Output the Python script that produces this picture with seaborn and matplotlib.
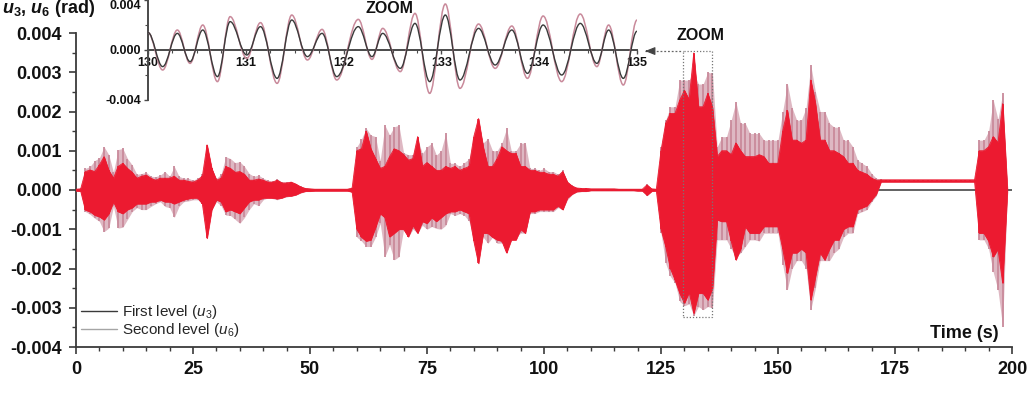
import numpy as np
import matplotlib
matplotlib.use("Agg")
import matplotlib.pyplot as plt
import seaborn as sns
from matplotlib.path import Path
from matplotlib.patches import PathPatch, Rectangle
from matplotlib.lines import Line2D
from matplotlib.ticker import MultipleLocator, FormatStrFormatter, FixedLocator

# ---------------- data (rotation envelopes per second, in 1e-3 rad) ----------------
time_s = list(range(0, 200))

first_max = [
    0.02, 0.03, 0.47, 0.51, 0.47, 0.64, 0.85, 0.50, 0.30, 0.60,
    0.68, 0.55, 0.45, 0.30, 0.35, 0.38, 0.30, 0.25, 0.30, 0.30,
    0.30, 0.35, 0.25, 0.25, 0.22, 0.20, 0.25, 0.35, 1.15, 0.55,
    0.25, 0.30, 0.60, 0.55, 0.45, 0.47, 0.40, 0.25, 0.25, 0.28,
    0.25, 0.20, 0.20, 0.25, 0.18, 0.18, 0.20, 0.15, 0.08, 0.04,
    0.03, 0.02, 0.02, 0.02, 0.02, 0.02, 0.02, 0.02, 0.02, 0.05,
    1.00, 1.05, 1.50, 1.05, 0.80, 0.55, 0.60, 0.85, 1.05, 1.00,
    0.90, 0.76, 0.80, 1.36, 0.60, 0.70, 0.60, 0.50, 0.50, 0.60,
    0.55, 0.60, 0.50, 0.55, 0.60, 1.36, 1.82, 1.10, 0.60, 0.60,
    0.80, 1.10, 1.00, 0.93, 0.93, 0.60, 0.60, 0.50, 0.50, 0.45,
    0.45, 0.40, 0.40, 0.35, 0.47, 0.20, 0.10, 0.05, 0.04, 0.04,
    0.03, 0.03, 0.03, 0.03, 0.03, 0.03, 0.02, 0.02, 0.02, 0.02,
    0.02, 0.02, 0.13, 0.03, 0.02, 1.00, 1.70, 1.95, 1.95, 2.29,
    2.54, 2.30, 3.49, 2.12, 2.12, 2.46, 2.10, 0.85, 1.00, 1.00,
    0.90, 1.20, 1.00, 0.85, 0.85, 0.85, 0.90, 0.85, 0.68, 0.68,
    0.68, 1.50, 2.03, 1.27, 1.27, 1.19, 1.27, 2.80, 2.20, 1.27,
    1.27, 1.00, 1.00, 0.93, 0.85, 0.68, 0.68, 0.50, 0.45, 0.40,
    0.30, 0.25, 0.26, 0.26, 0.26, 0.26, 0.26, 0.26, 0.26, 0.26,
    0.26, 0.26, 0.26, 0.26, 0.26, 0.26, 0.26, 0.26, 0.26, 0.26,
    0.26, 0.26, 0.26, 1.00, 1.00, 1.10, 1.36, 1.20, 2.20, 0.05,
]
first_min = [
    -0.02, -0.03, -0.51, -0.55, -0.64, -0.68, -0.76, -0.60, -0.30, -0.55,
    -0.60, -0.50, -0.45, -0.35, -0.35, -0.35, -0.30, -0.30, -0.25, -0.30,
    -0.30, -0.35, -0.30, -0.25, -0.22, -0.20, -0.20, -0.35, -1.23, -0.50,
    -0.25, -0.30, -0.55, -0.50, -0.55, -0.60, -0.45, -0.30, -0.25, -0.25,
    -0.20, -0.20, -0.20, -0.22, -0.20, -0.15, -0.15, -0.12, -0.06, -0.03,
    -0.03, -0.02, -0.02, -0.02, -0.02, -0.02, -0.02, -0.02, -0.02, -0.05,
    -1.00, -1.20, -1.30, -1.27, -0.95, -0.60, -0.70, -1.19, -1.10, -1.00,
    -1.00, -1.19, -0.90, -1.10, -0.80, -0.85, -0.70, -0.80, -0.70, -0.60,
    -0.55, -0.55, -0.50, -0.55, -0.60, -1.30, -1.87, -1.10, -1.10, -1.20,
    -1.27, -1.30, -1.60, -1.27, -1.27, -1.00, -1.10, -0.55, -0.55, -0.50,
    -0.50, -0.50, -0.50, -0.40, -0.50, -0.20, -0.10, -0.04, -0.03, -0.03,
    -0.01, -0.01, -0.01, -0.01, -0.01, -0.01, -0.01, -0.01, -0.01, -0.01,
    -0.02, -0.02, -0.13, -0.03, -0.02, -1.00, -1.44, -2.00, -2.29, -2.63,
    -2.88, -2.60, -3.14, -2.63, -2.63, -2.80, -2.50, -0.76, -0.80, -0.80,
    -1.30, -1.78, -1.50, -0.93, -1.10, -1.10, -1.10, -0.93, -0.93, -0.93,
    -0.93, -1.50, -2.12, -1.60, -1.60, -1.50, -1.60, -2.80, -2.20, -1.60,
    -1.78, -1.50, -1.27, -1.27, -1.00, -0.93, -0.93, -0.50, -0.45, -0.40,
    -0.25, -0.10, 0.21, 0.21, 0.21, 0.21, 0.21, 0.21, 0.21, 0.21,
    0.21, 0.21, 0.21, 0.21, 0.21, 0.21, 0.21, 0.21, 0.21, 0.21,
    0.21, 0.21, 0.21, -1.10, -1.10, -1.30, -1.70, -1.50, -2.37, -0.05,
]
second_max = [
    0.02, 0.04, 0.55, 0.60, 0.75, 0.82, 1.10, 0.90, 0.45, 1.03,
    1.06, 0.80, 0.64, 0.40, 0.42, 0.45, 0.35, 0.34, 0.38, 0.47,
    0.35, 0.60, 0.35, 0.30, 0.30, 0.25, 0.30, 0.40, 1.00, 0.55,
    0.30, 0.40, 0.85, 0.80, 0.70, 0.72, 0.60, 0.42, 0.35, 0.38,
    0.30, 0.25, 0.22, 0.28, 0.20, 0.20, 0.20, 0.15, 0.10, 0.05,
    0.03, 0.02, 0.02, 0.02, 0.02, 0.02, 0.02, 0.02, 0.02, 0.05,
    1.10, 1.30, 1.57, 1.40, 1.36, 0.75, 1.65, 1.40, 1.61, 1.65,
    0.95, 0.90, 0.90, 1.31, 0.93, 1.10, 1.19, 0.89, 1.00, 1.44,
    0.68, 0.68, 0.60, 0.70, 0.80, 1.30, 1.60, 1.20, 1.31, 1.00,
    1.00, 1.20, 1.57, 1.00, 1.00, 1.19, 1.20, 0.55, 0.55, 0.50,
    0.55, 0.47, 0.47, 0.40, 0.50, 0.22, 0.12, 0.05, 0.04, 0.04,
    0.03, 0.03, 0.03, 0.03, 0.03, 0.03, 0.02, 0.02, 0.02, 0.02,
    0.02, 0.02, 0.15, 0.03, 0.02, 1.10, 1.78, 2.12, 2.12, 2.80,
    2.80, 2.80, 3.00, 2.70, 2.70, 3.00, 2.97, 1.10, 1.36, 1.36,
    1.78, 2.25, 1.70, 1.70, 1.44, 1.44, 1.44, 1.27, 1.27, 1.27,
    1.27, 2.00, 2.71, 2.10, 1.78, 1.78, 2.10, 3.18, 2.50, 2.00,
    2.00, 1.70, 1.60, 1.60, 1.27, 1.27, 1.10, 0.76, 0.68, 0.60,
    0.42, 0.30, 0.27, 0.26, 0.26, 0.26, 0.26, 0.26, 0.26, 0.26,
    0.26, 0.26, 0.26, 0.26, 0.26, 0.26, 0.26, 0.26, 0.26, 0.26,
    0.26, 0.26, 0.26, 1.27, 1.27, 1.50, 2.29, 1.80, 2.46, 0.05,
]
second_min = [
    -0.02, -0.04, -0.55, -0.62, -0.72, -0.80, -1.06, -0.97, -0.42, -0.97,
    -0.95, -0.75, -0.55, -0.45, -0.50, -0.50, -0.42, -0.35, -0.30, -0.42,
    -0.45, -0.70, -0.42, -0.30, -0.28, -0.25, -0.25, -0.35, -0.90, -0.50,
    -0.30, -0.40, -0.64, -0.65, -0.75, -0.85, -0.70, -0.50, -0.35, -0.40,
    -0.25, -0.20, -0.22, -0.25, -0.20, -0.18, -0.15, -0.12, -0.08, -0.04,
    -0.03, -0.02, -0.02, -0.02, -0.02, -0.02, -0.02, -0.02, -0.02, -0.05,
    -1.20, -1.30, -1.44, -1.44, -1.20, -0.85, -1.70, -1.40, -1.78, -1.70,
    -1.00, -1.20, -1.00, -1.10, -0.90, -1.00, -0.93, -0.98, -1.00, -0.90,
    -0.60, -0.65, -0.60, -0.65, -0.80, -1.30, -1.60, -1.20, -1.36, -1.20,
    -1.36, -1.35, -1.50, -1.27, -1.20, -1.10, -1.10, -0.60, -0.60, -0.55,
    -0.55, -0.55, -0.55, -0.45, -0.50, -0.25, -0.12, -0.05, -0.04, -0.04,
    -0.02, -0.02, -0.02, -0.02, -0.02, -0.02, -0.02, -0.02, -0.02, -0.02,
    -0.02, -0.02, -0.15, -0.03, -0.02, -1.10, -1.87, -2.20, -2.37, -2.84,
    -2.95, -2.90, -3.20, -2.97, -3.05, -2.97, -3.00, -1.27, -1.27, -1.27,
    -1.50, -1.70, -1.60, -1.44, -1.27, -1.27, -1.30, -1.10, -1.10, -1.10,
    -1.10, -1.90, -2.54, -2.00, -1.80, -1.80, -2.00, -3.05, -2.50, -1.80,
    -1.80, -1.80, -1.60, -1.50, -1.20, -1.10, -1.10, -0.60, -0.55, -0.50,
    -0.30, -0.15, 0.21, 0.21, 0.21, 0.21, 0.21, 0.21, 0.21, 0.21,
    0.21, 0.21, 0.21, 0.21, 0.21, 0.21, 0.21, 0.21, 0.21, 0.21,
    0.21, 0.21, 0.21, -1.27, -1.27, -1.50, -2.10, -2.55, -3.48, -0.05,
]

# zoom window 130-135 s: successive peaks / troughs (1e-3 rad)
zoom_t = [130.00, 130.15, 130.30, 130.43, 130.56, 130.71, 130.84, 131.01, 131.15,
          131.32, 131.47, 131.63, 131.78, 131.93, 132.15, 132.29, 132.40, 132.58,
          132.73, 132.88, 133.04, 133.19, 133.38, 133.55, 133.72, 133.88, 134.04,
          134.23, 134.42, 134.59, 134.71, 134.86, 135.00]
zoom_first = [1.40, -1.33, 1.33, -0.93, 1.60, -2.13, 2.27, -0.40, 1.87, -2.27, 2.40,
              -0.53, 1.33, -2.13, 1.87, -0.53, 1.33, -1.47, 2.13, -2.53, 2.80, -2.40,
              1.73, -1.20, 1.60, -1.87, 2.00, -2.00, 2.13, -1.07, 1.60, -2.27, 1.50]
zoom_second = [1.40, -1.60, 1.60, -1.07, 2.00, -2.53, 2.67, -0.67, 2.19, -2.67, 2.80,
               -0.80, 1.65, -2.40, 2.45, -0.75, 1.73, -1.73, 2.93, -3.47, 3.68, -3.07,
               2.08, -1.47, 1.92, -2.27, 2.72, -2.53, 2.88, -1.33, 2.00, -2.80, 2.40]

x_major = [0, 25, 50, 75, 100, 125, 150, 175, 200]
series_labels = [r"First level ($u_3$)", r"Second level ($u_6$)"]

# ---------------- style ----------------
sns.set_theme(style="ticks")
plt.rcParams["font.family"] = ["Liberation Sans", "DejaVu Sans"]
plt.rcParams["axes.unicode_minus"] = False
plt.rcParams["mathtext.fontset"] = "custom"
plt.rcParams["mathtext.rm"] = "Liberation Sans"
plt.rcParams["mathtext.it"] = "Liberation Sans:italic"
plt.rcParams["mathtext.bf"] = "Liberation Sans:bold"
try:
    plt.rcParams["mathtext.bfit"] = "Liberation Sans:italic:bold"
    YLAB = r"$\mathbfit{u}_\mathbf{3}$, $\mathbfit{u}_\mathbf{6}$ (rad)"
except KeyError:
    YLAB = r"$u_3$, $u_6$ (rad)"

RED = "#ec1a30"
PINK = "#c98a9b"
AX = "#3a3a3a"

fig = plt.figure(figsize=(10.31, 3.96), dpi=100)
ax = fig.add_axes([76 / 1031, 1 - 347 / 396, 936 / 1031, 314 / 396])

t = np.array(time_s, dtype=float)
s = 1e-3
smax, smin = np.array(second_max) * s, np.array(second_min) * s
fmax, fmin = np.array(first_max) * s, np.array(first_min) * s

ax.axhline(0, color="#555555", lw=1.3, zorder=1)
# second level: lighter band with denser streaks
ax.fill_between(t, smin, smax, color=PINK, alpha=0.6, lw=0, zorder=2)
ax.vlines(t, smin, smax, color=PINK, lw=1.3, zorder=2.5)
# first level
ax.fill_between(t, fmin, fmax, color=RED, lw=0.5, zorder=3)
sns.lineplot(x=t, y=fmax, ax=ax, color=RED, lw=0.6, zorder=3)
sns.lineplot(x=t, y=fmin, ax=ax, color=RED, lw=0.6, zorder=3)
ax.vlines(t, fmin, fmax, color=RED, lw=1.1, zorder=3.5)

ax.set_xlim(0, 200)
ax.set_ylim(-0.004, 0.004)
ax.xaxis.set_major_locator(FixedLocator(x_major))
ax.xaxis.set_minor_locator(MultipleLocator(5))
ax.yaxis.set_major_locator(MultipleLocator(0.001))
ax.yaxis.set_minor_locator(MultipleLocator(0.0005))
ax.yaxis.set_major_formatter(FormatStrFormatter("%.3f"))
sns.despine(ax=ax)
for sp in ["left", "bottom"]:
    ax.spines[sp].set_color(AX)
    ax.spines[sp].set_linewidth(1.3)
ax.tick_params(which="major", direction="out", length=5, width=1.2, color=AX,
               labelsize=13, pad=5, labelcolor="#111111")
ax.tick_params(which="minor", direction="out", length=3, width=1.0, color=AX)
for lab in ax.get_xticklabels() + ax.get_yticklabels():
    lab.set_fontweight("bold")
ax.set_facecolor("white")

ax.text(0.986, 0.03, "Time (s)", transform=ax.transAxes, ha="right",
        va="baseline", fontsize=13, fontweight="bold", color="#111111")
fig.text(0.002, 1 - 13 / 396, YLAB, ha="left", va="baseline",
         fontsize=13, fontweight="bold", color="#111111")

# legend
handles = [Line2D([], [], color="#3a3a3a", lw=1.0),
           Line2D([], [], color="#a5a5a5", lw=1.0)]
ax.legend(handles, series_labels, loc="upper left", bbox_to_anchor=(0.005, 0.14),
          frameon=False, fontsize=11, handlelength=2.4, handletextpad=0.3,
          labelspacing=0.0, borderpad=0, borderaxespad=0)

# zoom box and arrow
ax.add_patch(Rectangle((129.7, -0.00323), 6.2, 0.00677, fill=False,
                       ls=(0, (1, 1.5)), lw=0.9, ec="#777777", zorder=5))
ax.plot([121.6, 129.7], [0.00354, 0.00354], ls=(0, (1.5, 1.5)), lw=0.9,
        color="#666666", zorder=5)
ax.annotate("", xy=(121.0, 0.00354), xytext=(122.6, 0.00354),
            arrowprops=dict(arrowstyle="-|>,head_length=0.5,head_width=0.2",
                            color="#444444", lw=0.8), zorder=6)
ax.text(133.5, 0.00381, "ZOOM", ha="center", va="baseline", fontsize=11.5,
        fontweight="bold", color="#111111")

# ---------------- inset ----------------
axi = fig.add_axes([148 / 1031, 1 - 100 / 396, 489 / 1031, 100 / 396])
axi.set_facecolor("none")
axi.set_xlim(130, 135)
axi.set_ylim(-0.004, 0.004)


def smooth_path(tt, vv):
    verts = [(tt[0], vv[0] * s)]
    codes = [Path.MOVETO]
    for k in range(len(tt) - 1):
        d = 0.36 * (tt[k + 1] - tt[k])
        verts += [(tt[k] + d, vv[k] * s), (tt[k + 1] - d, vv[k + 1] * s),
                  (tt[k + 1], vv[k + 1] * s)]
        codes += [Path.CURVE4] * 3
    return Path(verts, codes)


axi.add_patch(PathPatch(smooth_path(zoom_t, zoom_second), fill=False,
                        ec=PINK, lw=1.1, zorder=3))
axi.add_patch(PathPatch(smooth_path(zoom_t, zoom_first), fill=False,
                        ec="#3a3a3a", lw=1.0, zorder=4))

axi.spines["top"].set_visible(False)
axi.spines["right"].set_visible(False)
axi.spines["bottom"].set_position(("data", 0))
for sp in ["left", "bottom"]:
    axi.spines[sp].set_color("#4a4a4a")
    axi.spines[sp].set_linewidth(1.4)
axi.xaxis.set_major_locator(MultipleLocator(1))
axi.xaxis.set_minor_locator(MultipleLocator(0.25))
axi.yaxis.set_major_locator(FixedLocator([-0.004, 0.0, 0.004]))
axi.yaxis.set_minor_locator(FixedLocator([-0.002, 0.002]))
axi.yaxis.set_major_formatter(FormatStrFormatter("%.3f"))
axi.xaxis.set_major_formatter(FormatStrFormatter("%d"))
axi.tick_params(which="major", direction="out", length=3, width=1.0, color="#4a4a4a",
                labelsize=9, pad=2, labelcolor="#111111")
axi.tick_params(which="minor", direction="out", length=2, width=0.8, color="#4a4a4a")
for lab in axi.get_xticklabels() + axi.get_yticklabels():
    lab.set_fontweight("bold")
fig.canvas.draw()
ylabs = axi.get_yticklabels()
ylabs[-1].set_verticalalignment("top")
fig.text(390 / 1031, 1 - 13 / 396, "ZOOM", ha="center", va="baseline",
         fontsize=11.5, fontweight="bold", color="#111111")

fig.savefig("out.png", dpi=100)
